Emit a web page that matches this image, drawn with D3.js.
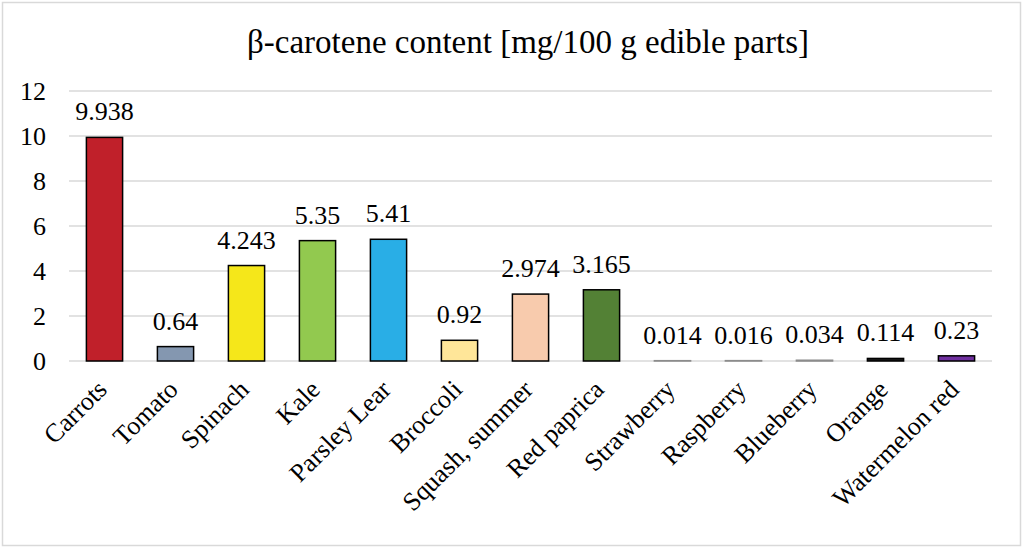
<!DOCTYPE html>
<html><head><meta charset="utf-8">
<script src="https://cdn.jsdelivr.net/npm/d3@7"></script>
<style>body{margin:0;background:#fff}svg{display:block}</style>
</head><body><svg id="c" width="1024" height="550"></svg>
<script>
const categories = ["Carrots","Tomato","Spinach","Kale","Parsley Lear","Broccoli","Squash, summer","Red paprica","Strawberry","Raspberry","Blueberry","Orange","Watermelon red"];
const values = [9.938,0.64,4.243,5.35,5.41,0.92,2.974,3.165,0.014,0.016,0.034,0.114,0.23];
const valueLabels = ["9.938","0.64","4.243","5.35","5.41","0.92","2.974","3.165","0.014","0.016","0.034","0.114","0.23"];
const colors = ["#C0202A","#8497B0","#F5E71A","#92C94F","#29AEE6","#FFE699","#F8CBAD","#538135","#A6A6A6","#A6A6A6","#808080","#1a1a1a","#7030A0"];
const yTicks = [0,2,4,6,8,10,12];
const title = "β-carotene content [mg/100 g edible parts]";

const FONT = "'Liberation Serif', 'Times New Roman', serif";
const svg = d3.select("#c");
svg.append("rect").attr("x",2.5).attr("y",2.5).attr("width",1018).attr("height",543).attr("fill","#fff").attr("stroke","#d9d9d9").attr("stroke-width",1.5);

const x = d3.scaleBand().domain(categories).range([69,992]).paddingInner(0.49).paddingOuter(0.245);
const y = d3.scaleLinear().domain([0,12]).range([361,91]);

svg.append("text").attr("x",528).attr("y",53).attr("text-anchor","middle")
  .attr("font-family",FONT).attr("font-size",33).text(title);

const g = svg.append("g").attr("font-family",FONT);
g.selectAll("line.grid").data(yTicks).join("line").attr("class","grid")
  .attr("x1",69).attr("x2",992).attr("y1",d=>y(d)).attr("y2",d=>y(d))
  .attr("stroke","#d9d9d9").attr("stroke-width",1.5);

g.selectAll("text.yt").data(yTicks).join("text").attr("class","yt")
  .attr("x",46).attr("y",d=>y(d)+9).attr("text-anchor","end").attr("font-size",26).text(d=>d);

g.selectAll("rect.bar").data(values).join("rect").attr("class","bar")
  .attr("x",(d,i)=>x(categories[i])).attr("width",x.bandwidth())
  .attr("y",d=>y(d)).attr("height",d=>y(0)-y(d))
  .attr("fill",(d,i)=>colors[i]).attr("stroke",(d,i)=>i>=8&&i<=10?"#8c8c8c":"#000").attr("stroke-width",1.5);

g.selectAll("text.vl").data(values).join("text").attr("class","vl")
  .attr("x",(d,i)=>x(categories[i])+x.bandwidth()/2).attr("y",d=>y(d)-17)
  .attr("text-anchor","middle").attr("font-size",26).text((d,i)=>valueLabels[i]);

g.selectAll("text.xl").data(categories).join("text").attr("class","xl")
  .attr("transform",d=>`translate(${x(d)+x.bandwidth()/2+4},${391}) rotate(-45)`)
  .attr("text-anchor","end").attr("font-size",26).text(d=>d);
</script></body></html>
